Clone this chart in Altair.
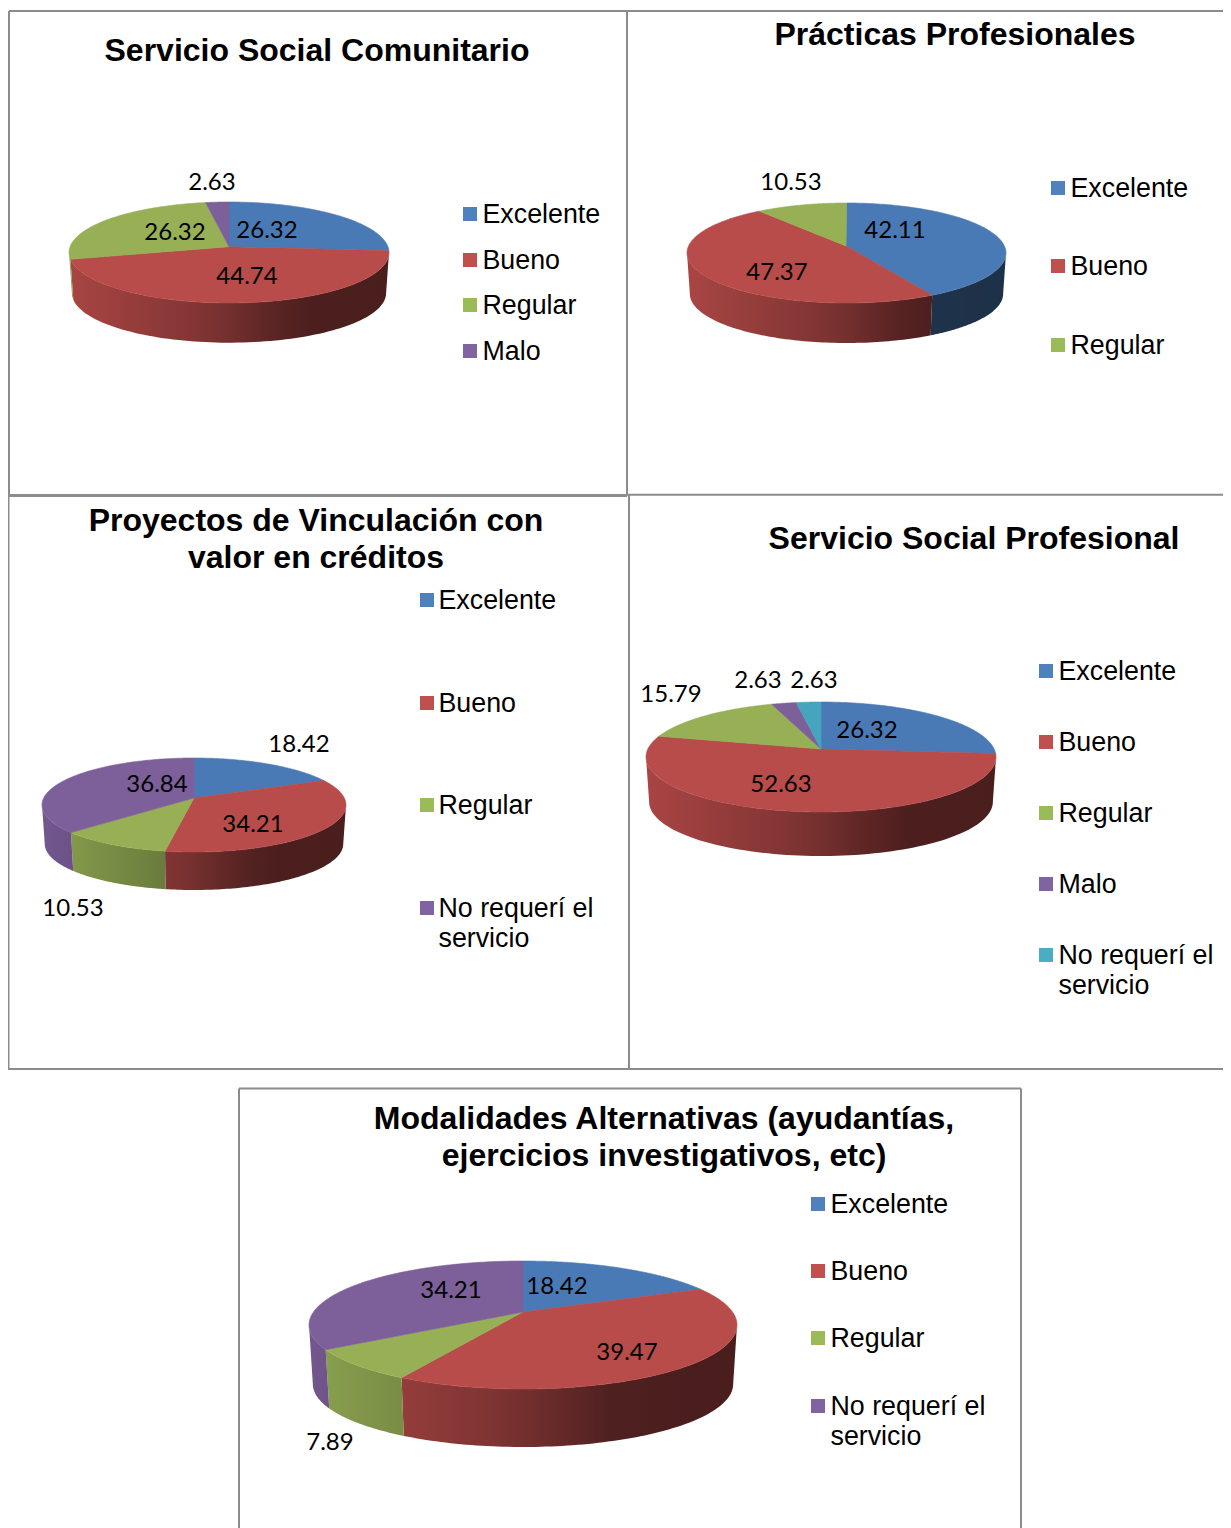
import math
import numpy as np
import pandas as pd
import altair as alt

# ---- chart values ----
titles_1 = ["Servicio Social Comunitario"]
titles_2 = ["Prácticas Profesionales"]
titles_3 = ["Proyectos de Vinculación con", "valor en créditos"]
titles_4 = ["Servicio Social Profesional"]
titles_5 = ["Modalidades Alternativas (ayudantías,", "ejercicios investigativos, etc)"]

cats_1 = ["Excelente", "Bueno", "Regular", "Malo"]
vals_1 = [26.32, 44.74, 26.32, 2.63]
cats_2 = ["Excelente", "Bueno", "Regular"]
vals_2 = [42.11, 47.37, 10.53]
cats_3 = ["Excelente", "Bueno", "Regular", "No requerí el servicio"]
vals_3 = [18.42, 34.21, 10.53, 36.84]
cats_4 = ["Excelente", "Bueno", "Regular", "Malo", "No requerí el servicio"]
vals_4 = [26.32, 52.63, 15.79, 2.63, 2.63]
cats_5 = ["Excelente", "Bueno", "Regular", "No requerí el servicio"]
vals_5 = [18.42, 39.47, 7.89, 34.21]

# ---- styles: series colours go by position, as in the source charts ----
COLORS = ["#4a7ab5", "#b84c4a", "#97b056", "#7d5f9a", "#45a5bf"]
SWATCH = ["#4f81bd", "#c0504d", "#9bbb59", "#8064a2", "#4bacc6"]
TITLE_FONT = "Liberation Sans"
LABEL_FONT = "Lato"
LINE = "#8c8c8c"
TEXT_DY = 1

# ---- layout (page pixels) ----
PIES = [
    dict(cats=cats_1, vals=vals_1, ax=229, ay=246.7, top=202, bot=303, left=69, right=389, wall=342.7,
         labels=[(267, 230), (247, 276), (175, 232), (212, 182)],
         leg_sw=470, leg_tx=483, leg_y=[214, 260, 305, 351],
         title=titles_1, tx=317, ty=[50]),
    dict(cats=cats_2, vals=vals_2, ax=846, ay=246, top=203, bot=303, left=687, right=1006, wall=343,
         labels=[(895, 230), (777, 272), (791, 182)],
         leg_sw=1058, leg_tx=1071, leg_y=[188, 266, 345],
         title=titles_2, tx=955, ty=[34]),
    dict(cats=cats_3, vals=vals_3, ax=194, ay=798, top=758, bot=852, left=42, right=346, wall=890,
         labels=[(299, 744), (253, 824), (73, 908), (157, 784)],
         leg_sw=427, leg_tx=439, leg_y=[600, 703, 805, 908],
         title=titles_3, tx=316, ty=[520, 557]),
    dict(cats=cats_4, vals=vals_4, ax=821, ay=749, top=702, bot=812, left=646, right=996, wall=856,
         labels=[(867, 730), (781, 784), (671, 694), (758, 680), (814, 680)],
         leg_sw=1046, leg_tx=1059, leg_y=[671, 742, 813, 884, 955],
         title=titles_4, tx=974, ty=[538]),
    dict(cats=cats_5, vals=vals_5, ax=523, ay=1312, top=1261, bot=1389, left=309, right=737, wall=1447,
         labels=[(557, 1286), (627, 1352), (330, 1442), (451, 1290)],
         leg_sw=818, leg_tx=831, leg_y=[1204, 1271, 1338, 1406],
         title=titles_5, tx=664, ty=[1118, 1155]),
]

PLOT_W = 1215
PLOT_H = 1520
RIGHT = 8 + PLOT_W
BOTTOM = 8 + PLOT_H
RULES = [
    (9, 9, 11, 495, 2), (627, 627, 11, 495, 2), (9, RIGHT, 11, 11, 2),
    (9, 627, 495.5, 495.5, 3), (627, RIGHT, 494.7, 494.7, 2),
    (8.5, 8.5, 495, 1069, 2), (629, 629, 495, 1069, 2), (8, RIGHT, 1069, 1069, 2),
    (239, 239, 1088.5, BOTTOM, 2), (1021, 1021, 1088.5, BOTTOM, 2), (239, 1021, 1088.5, 1088.5, 2),
]

XS = alt.Scale(domain=[8, RIGHT], nice=False, zero=False)
YS = alt.Scale(domain=[8, BOTTOM], reverse=True, nice=False, zero=False)
X = alt.X("x:Q", scale=XS, axis=None)
Y = alt.Y("y:Q", scale=YS, axis=None)


def shade(hex_color, f):
    r, g, b = [int(hex_color[i:i + 2], 16) for i in (1, 3, 5)]
    return "#%02x%02x%02x" % (int(r * f), int(g * f), int(b * f))


def wall_factor(t):
    return float(np.interp(t, [0, 0.45, 0.72, 1], [0.92, 0.68, 0.42, 0.40]))


def geometry(p):
    up, down = p["ay"] - p["top"], p["bot"] - p["ay"]
    k = (down - up) / (down + up)
    ry = 2 * up * down / (up + down)
    half = (p["right"] - p["left"]) / 2
    rx = half * math.sqrt(1 - k * k)
    cx = (p["right"] + p["left"]) / 2

    def at(theta):
        s = 1 / (1 + k * np.cos(theta))
        return cx + rx * np.sin(theta) * s, p["ay"] - ry * np.cos(theta) * s

    return k, at, cx, half


def polygon(xs, ys, fill, stroke):
    df = pd.DataFrame({"x": xs, "y": ys, "i": np.arange(len(xs))})
    kw = dict(fill=fill, clip=False)
    if stroke:
        kw.update(stroke=stroke, strokeWidth=0.6)
    else:
        kw.update(strokeWidth=0, strokeOpacity=0)
    return alt.Chart(df).mark_line(**kw).encode(x=X, y=Y, order=alt.Order("i:Q"))


layers = []
for a, b, c, d, w in RULES:
    layers.append(alt.Chart(pd.DataFrame({"x": [a], "x2": [b], "y": [c], "y2": [d]}))
                  .mark_rule(color=LINE, strokeWidth=w)
                  .encode(x=X, x2="x2:Q", y=Y, y2="y2:Q"))

BOTTOM_SCALE = 0.982
for p in PIES:
    k, at, cx, half = geometry(p)
    total = sum(p["vals"])
    edges = np.concatenate([[0], np.cumsum(p["vals"]) / total]) * 2 * math.pi
    th_r = math.acos(-k)
    th_l = 2 * math.pi - th_r
    _, lowest = at(math.pi)
    shift = p["wall"] - (p["ay"] + (lowest - p["ay"]) * BOTTOM_SCALE)
    # side walls
    for i, cat in enumerate(p["cats"]):
        a0, a1 = max(edges[i], th_r), min(edges[i + 1], th_l)
        if a1 <= a0:
            continue
        th = np.linspace(a0, a1, 90)
        xt, yt = at(th)
        xb = cx + (xt - cx) * BOTTOM_SCALE
        yb = p["ay"] + (yt - p["ay"]) * BOTTOM_SCALE + shift
        xs = np.concatenate([xt, xb[::-1]])
        ys = np.concatenate([yt, yb[::-1]])
        lo, hi = xs.min(), xs.max()
        stops = []
        for off in np.linspace(0, 1, 9):
            t = (lo + off * (hi - lo) - p["left"]) / (p["right"] - p["left"])
            stops.append(alt.GradientStop(offset=float(off), color=shade(COLORS[i], wall_factor(t))))
        grad = alt.LinearGradient(gradient="linear", x1=0, x2=1, y1=0, y2=0, stops=stops)
        layers.append(polygon(xs, ys, grad, None))
    # top faces
    for i, cat in enumerate(p["cats"]):
        th = np.linspace(edges[i], edges[i + 1], 120)
        xt, yt = at(th)
        xs = np.concatenate([[p["ax"]], xt, [p["ax"]]])
        ys = np.concatenate([[p["ay"]], yt, [p["ay"]]])
        layers.append(polygon(xs, ys, COLORS[i], COLORS[i]))
    # data labels
    lab = pd.DataFrame({"x": [q[0] for q in p["labels"]], "y": [q[1] + TEXT_DY for q in p["labels"]],
                        "t": ["%.2f" % v for v in p["vals"]]})
    layers.append(alt.Chart(lab).mark_text(font=LABEL_FONT, fontSize=24, color="#000000",
                                           align="center", baseline="middle")
                  .encode(x=X, y=Y, text="t:N"))
    # title
    tit = pd.DataFrame({"x": [p["tx"]] * len(p["title"]), "y": [v + TEXT_DY for v in p["ty"]], "t": p["title"]})
    layers.append(alt.Chart(tit).mark_text(font=TITLE_FONT, fontSize=32, fontWeight="bold", color="#000000",
                                           align="center", baseline="middle")
                  .encode(x=X, y=Y, text="t:N"))
    # legend
    leg = pd.DataFrame({"x": [p["leg_sw"]] * len(p["cats"]), "y": p["leg_y"], "c": p["cats"],
                        "col": SWATCH[:len(p["cats"])]})
    layers.append(alt.Chart(leg).mark_square(size=196, opacity=1)
                  .encode(x=X, y=Y, color=alt.Color("col:N", scale=None, legend=None)))
    names, name_y = [], []
    for c, y in zip(p["cats"], p["leg_y"]):
        if c == "No requerí el servicio":
            names += ["No requerí el", "servicio"]
            name_y += [y + TEXT_DY, y + 30 + TEXT_DY]
        else:
            names.append(c)
            name_y.append(y + TEXT_DY)
    txt = pd.DataFrame({"x": [p["leg_tx"] - 0.5] * len(names), "y": name_y, "t": names})
    layers.append(alt.Chart(txt).mark_text(font=TITLE_FONT, fontSize=26.8, color="#000000",
                                           align="left", baseline="middle")
                  .encode(x=X, y=Y, text="t:N"))

chart = (alt.layer(*layers)
         .properties(width=PLOT_W, height=PLOT_H, padding=0, background="#ffffff",
                     autosize=alt.AutoSizeParams(type="none"))
         .configure_view(stroke=None))
chart.save("out.html", embed_options={"renderer": "svg", "actions": False})
